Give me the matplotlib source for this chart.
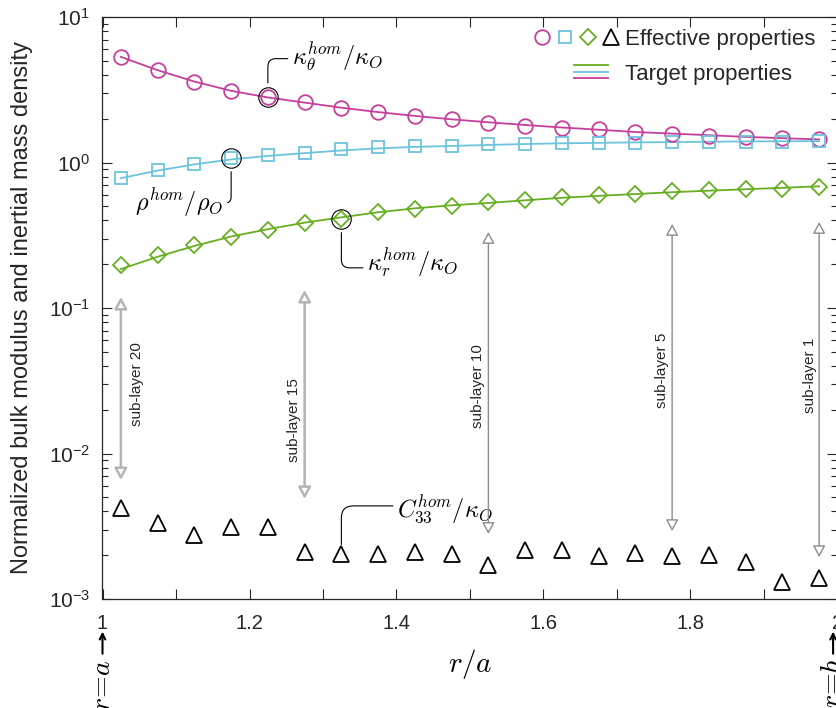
import numpy as np
import matplotlib
matplotlib.use("Agg")
import matplotlib.pyplot as plt
from matplotlib.lines import Line2D
from matplotlib.legend_handler import HandlerTuple, HandlerBase

plt.rcParams['font.family'] = ['Liberation Sans', 'DejaVu Sans']
plt.rcParams['mathtext.fontset'] = 'cm'

# sub-layer centres r/a
r = [1.025, 1.075, 1.125, 1.175, 1.225, 1.275, 1.325, 1.375, 1.425, 1.475,
     1.525, 1.575, 1.625, 1.675, 1.725, 1.775, 1.825, 1.875, 1.925, 1.975]

# effective properties (markers)
kappa_theta = [5.32, 4.31, 3.60, 3.11, 2.83, 2.60, 2.37, 2.21, 2.08, 1.99,
               1.88, 1.79, 1.74, 1.69, 1.61, 1.57, 1.53, 1.49, 1.48, 1.44]
rho = [0.781, 0.882, 0.98, 1.077, 1.12, 1.165, 1.23, 1.27, 1.29, 1.29,
       1.335, 1.335, 1.37, 1.36, 1.355, 1.387, 1.387, 1.387, 1.387, 1.40]
kappa_r = [0.199, 0.233, 0.273, 0.308, 0.342, 0.384, 0.411, 0.457, 0.477, 0.50,
           0.535, 0.555, 0.578, 0.597, 0.61, 0.636, 0.65, 0.661, 0.661, 0.682]
c33 = [0.00425, 0.00335, 0.00274, 0.00313, 0.00313, 0.00211, 0.00203, 0.00203,
       0.00211, 0.00203, 0.00171, 0.00218, 0.00218, 0.00198, 0.00207, 0.00196,
       0.0020, 0.0018, 0.00131, 0.00139]

# target properties (lines)
kappa_theta_t = [5.32, 4.31, 3.60, 3.11, 2.80, 2.58, 2.38, 2.22, 2.09, 1.98,
                 1.89, 1.81, 1.74, 1.68, 1.62, 1.58, 1.54, 1.50, 1.47, 1.44]
rho_t = [0.78, 0.88, 0.97, 1.05, 1.11, 1.16, 1.21, 1.25, 1.28, 1.30,
         1.32, 1.34, 1.355, 1.365, 1.375, 1.38, 1.39, 1.395, 1.40, 1.40]
kappa_r_t = [0.185, 0.225, 0.267, 0.31, 0.348, 0.386, 0.42, 0.455, 0.484, 0.508,
             0.527, 0.55, 0.572, 0.59, 0.607, 0.625, 0.64, 0.655, 0.67, 0.686]

# sub-layer markers: position, arrow top/bottom, label position
sub_names = ['sub-layer 20', 'sub-layer 15', 'sub-layer 10', 'sub-layer 5', 'sub-layer 1']
sub_x = [1.025, 1.275, 1.525, 1.775, 1.975]
sub_top = [0.119, 0.133, 0.333, 0.378, 0.390]
sub_bot = [0.00657, 0.00487, 0.0028, 0.00293, 0.00194]
sub_lx = [1.047, 1.2605, 1.511, 1.761, 1.9626]
sub_ly = [0.0300, 0.0170, 0.0290, 0.0375, 0.0346]

x_ticks = [1.0, 1.1, 1.2, 1.3, 1.4, 1.5, 1.6, 1.7, 1.8, 1.9, 2.0]
x_ticklabels = ['1', '', '1.2', '', '1.4', '', '1.6', '', '1.8', '', '2']
y_ticks = [1e-3, 1e-2, 1e-1, 1e0, 1e1]
y_ticklabels = [r'$\mathregular{10^{-3}}$', r'$\mathregular{10^{-2}}$',
                r'$\mathregular{10^{-1}}$', r'$\mathregular{10^{0}}$',
                r'$\mathregular{10^{1}}$']

pink = '#C63F9B'
cyan = '#6CC4DC'
green = '#68AE22'
dark = '#262626'


class StackedLines(HandlerBase):
    # three short lines stacked on top of each other
    def create_artists(self, legend, orig_handle, xdescent, ydescent,
                       width, height, fontsize, trans):
        arts = []
        for i, h in enumerate(orig_handle):
            y = height * (0.95 - 0.42 * i) - ydescent
            ln = Line2D([width * 0.47 - xdescent, width * 0.85 - xdescent], [y, y],
                        color=h.get_color(), lw=1.3)
            ln.set_transform(trans)
            arts.append(ln)
        return arts


fig = plt.figure(figsize=(8.37, 7.08), dpi=100)
ax = fig.add_axes([102.5 / 837, 109 / 708, 735 / 837, 582 / 708])

lt, = ax.plot(r, kappa_theta_t, color=pink, lw=1.3)
lr, = ax.plot(r, rho_t, color=cyan, lw=1.3)
lk, = ax.plot(r, kappa_r_t, color=green, lw=1.3)

mo, = ax.plot(r, kappa_theta, ls='none', marker='o', mfc='none', mec=pink, ms=10.5, mew=1.3)
ms_, = ax.plot(r, rho, ls='none', marker='s', mfc='none', mec=cyan, ms=8, mew=1.3)
md, = ax.plot(r, kappa_r, ls='none', marker='D', mfc='none', mec=green, ms=8.3, mew=1.3)
mt, = ax.plot(r, c33, ls='none', marker='^', mfc='none', mec='k', ms=11, mew=1.3)

# callout rings
for yy, i in [(kappa_theta, 4), (rho, 3), (kappa_r, 6)]:
    ax.plot(r[i], yy[i], ls='none', marker='o', mfc='none', mec='k', ms=14, mew=0.8)

lead = dict(arrowstyle='-', lw=0.8, color='k', shrinkA=1)
ax.annotate(r'$\kappa_\theta^{hom}/\kappa_O$', xy=(r[4], kappa_theta[4]), xytext=(1.2578, 5.31),
            ha='left', va='center', fontsize=17.5,
            arrowprops=dict(lead, connectionstyle='angle,angleA=0,angleB=90,rad=8',
                            shrinkB=10, relpos=(0, 0.45)))
ax.annotate(r'$\rho^{hom}/\rho_O$', xy=(r[3], rho[3]), xytext=(1.1045, 0.527),
            ha='center', va='center', fontsize=17.5,
            arrowprops=dict(lead, connectionstyle='angle,angleA=0,angleB=90,rad=6',
                            shrinkB=10, relpos=(1, 0.5)))
ax.annotate(r'$\kappa_r^{hom}/\kappa_O$', xy=(r[6], kappa_r[6]), xytext=(1.360, 0.204),
            ha='left', va='center', fontsize=17.5,
            arrowprops=dict(lead, connectionstyle='angle,angleA=0,angleB=90,rad=8',
                            shrinkB=10, relpos=(0, 0.35)))
ax.annotate(r'$C_{33}^{hom}/\kappa_O$', xy=(r[6], c33[6]), xytext=(1.4007, 0.00415),
            ha='left', va='center', fontsize=17.5,
            arrowprops=dict(lead, connectionstyle='angle,angleA=0,angleB=90,rad=12',
                            shrinkB=7, relpos=(0, 0.6)))

# sub-layer double arrows
for k in range(len(sub_x)):
    thick = k < 2
    ax.annotate('', xy=(sub_x[k], sub_top[k]), xytext=(sub_x[k], sub_bot[k]),
                arrowprops=dict(arrowstyle='<|-|>,head_length=0.7,head_width=0.38',
                                fc='white', ec='#b5b5b5' if thick else '#8c8c8c',
                                lw=1.8 if thick else 1.0, shrinkA=0, shrinkB=0,
                                mutation_scale=10))
    ax.text(sub_lx[k], sub_ly[k], sub_names[k], rotation=90, ha='center', va='center',
            fontsize=11, color=dark)

ax.set_yscale('log')
ax.set_xlim(1, 2)
ax.set_ylim(1e-3, 1e1)
ax.set_xticks(x_ticks)
ax.set_xticklabels(x_ticklabels)
ax.set_yticks(y_ticks)
ax.set_yticklabels(y_ticklabels)
ax.tick_params(which='both', direction='in', top=True, right=True, colors=dark, width=0.8)
ax.tick_params(which='major', length=7)
ax.tick_params(which='minor', length=4)
ax.tick_params(axis='x', which='major', pad=11, labelsize=14.5)
ax.tick_params(axis='y', which='major', pad=9, labelsize=15)
for sp in ax.spines.values():
    sp.set_color(dark)
    sp.set_linewidth(0.9)

ax.set_xlabel(r'$r/a$', fontsize=21, labelpad=10)
ax.set_ylabel('Normalized bulk modulus and inertial mass density', fontsize=17, color=dark)
ax.yaxis.set_label_coords(-0.095, 0.5)

# r=a and r=b markers under the axis
tr = ax.get_xaxis_transform()
for xv, lab in [(1.0, r'$r\!=\!a$'), (1.994, r'$r\!=\!b$')]:
    ax.annotate('', xy=(xv, -0.056), xytext=(xv, -0.094), xycoords=tr,
                arrowprops=dict(arrowstyle='->', lw=1.5, color='k', shrinkA=0, shrinkB=0),
                annotation_clip=False)
    ax.text(xv, -0.103, lab, rotation=90, ha='center', va='top', transform=tr,
            fontsize=20, clip_on=False)

# legend
h_o = Line2D([], [], ls='none', marker='o', mfc='none', mec=pink, ms=10.5, mew=1.3)
h_s = Line2D([], [], ls='none', marker='s', mfc='none', mec=cyan, ms=8, mew=1.3)
h_d = Line2D([], [], ls='none', marker='D', mfc='none', mec=green, ms=8.3, mew=1.3)
h_t = Line2D([], [], ls='none', marker='^', mfc='none', mec='k', ms=11, mew=1.3)
eff = (h_o, h_s, h_d, h_t)
tgt = (Line2D([], [], color=green), Line2D([], [], color=cyan), Line2D([], [], color=pink))
ax.legend([eff, tgt], ['Effective properties', 'Target properties'],
          handler_map={eff: HandlerTuple(ndivide=None, pad=0), tgt: StackedLines()},
          loc='upper left', bbox_to_anchor=(531 / 837, 1 - 29 / 708),
          bbox_transform=fig.transFigure, frameon=False, fontsize=16,
          handlelength=4.1, handletextpad=0.13, labelspacing=0.63,
          borderpad=0, borderaxespad=0, labelcolor=dark)

fig.savefig('out.png', dpi=100)
